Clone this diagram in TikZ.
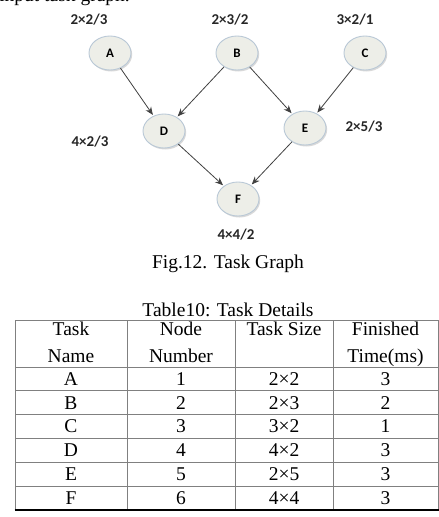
\documentclass[tikz,border=0pt]{standalone}
\usepackage{fontspec}
\setmainfont{Liberation Serif}
\newfontfamily\calibri{Carlito}
\usetikzlibrary{shapes.geometric,arrows.meta,shadows}
\definecolor{vfill}{HTML}{EDEEE8}
\definecolor{vline}{HTML}{B9C8D6}

\begin{document}
\begin{tikzpicture}[x=1pt,y=-1pt,
    vertex/.style={ellipse,draw=vline,line width=0.9pt,fill=vfill,
      minimum width=42pt,minimum height=34pt,inner sep=0pt,
      font=\calibri\bfseries\fontsize{13}{14}\selectfont,
      drop shadow={shadow xshift=1.2pt,shadow yshift=-1.5pt,opacity=0.3}},
    cost/.style={font=\calibri\bfseries\fontsize{15}{17}\selectfont,text=black!85},
    dep/.style={-{Stealth[length=8pt,width=6.5pt]},draw=black!75,line width=0.8pt,shorten >=1pt},
    cell/.style={font=\fontsize{19.5}{27}\selectfont,align=center,inner sep=0pt},
    rule/.style={draw=black!50,line width=1pt}]
    \clip (0,0) rectangle (439,517);

    % cut-off line of the text above
    \node[cell,anchor=base east] (intro) at (130,1) {input task graph.};

    % Vertices
    \node[vertex] (A) at (110,53) {A};
    \node[vertex] (B) at (237,53) {B};
    \node[vertex] (C) at (365,53) {C};
    \node[vertex] (D) at (164,131) {D};
    \node[vertex] (E) at (305,128) {E};
    \node[vertex] (F) at (238,199) {F};

    % Costs
    \node[cost] (costA) at (89,20) {2×2/3};
    \node[cost] (costB) at (230,20) {2×3/2};
    \node[cost] (costC) at (355,20) {3×2/1};
    \node[cost] (costD) at (90,142) {4×2/3};
    \node[cost] (costE) at (364,127) {2×5/3};
    \node[cost] (costF) at (236,235) {4×4/2};

    % Edges
    \draw[dep] (A) -- (D);
    \draw[dep] (B) -- (D);
    \draw[dep] (B) -- (E);
    \draw[dep] (C) -- (E);
    \draw[dep] (D) -- (F);
    \draw[dep] (E) -- (F);

    % Captions
    \node[cell,anchor=base] (fig) at (228,268) {Fig.12. Task Graph};
    \node[cell,anchor=base] (tab) at (228,316) {Table10: Task Details};

    % Table
    \draw[rule] (15,320) -- (438,320);
    \foreach \i in {0,...,5}
      \draw[rule] (15,{367+23.8*\i}) -- (438,{367+23.8*\i});
    \foreach \x in {15,127,235,333,438}
      \draw[rule] (\x,320) -- (\x,509.8);
    \draw[black,line width=1.6pt] (14.5,509.8) -- (439,509.8);

    \node[cell,anchor=north] (hName) at (71,322) {Task\\Name};
    \node[cell,anchor=north] (hNode) at (181,322) {Node\\Number};
    \node[cell,anchor=north] (hSize) at (284,322) {Task Size};
    \node[cell,anchor=north] (hTime) at (385.5,322) {Finished\\Time(ms)};

    \foreach \name/\num/\size/\fin [count=\i] in
      {A/1/2×2/3, B/2/2×3/2, C/3/3×2/1, D/4/4×2/3, E/5/2×5/3, F/6/4×4/3}
    {
      \node[cell] (name\i) at (71,{367+23.8*(\i-0.5)}) {\name};
      \node[cell] (num\i) at (181,{367+23.8*(\i-0.5)}) {\num};
      \node[cell] (size\i) at (284,{367+23.8*(\i-0.5)}) {\size};
      \node[cell] (fin\i) at (385.5,{367+23.8*(\i-0.5)}) {\fin};
    }
  \end{tikzpicture}
\end{document}
